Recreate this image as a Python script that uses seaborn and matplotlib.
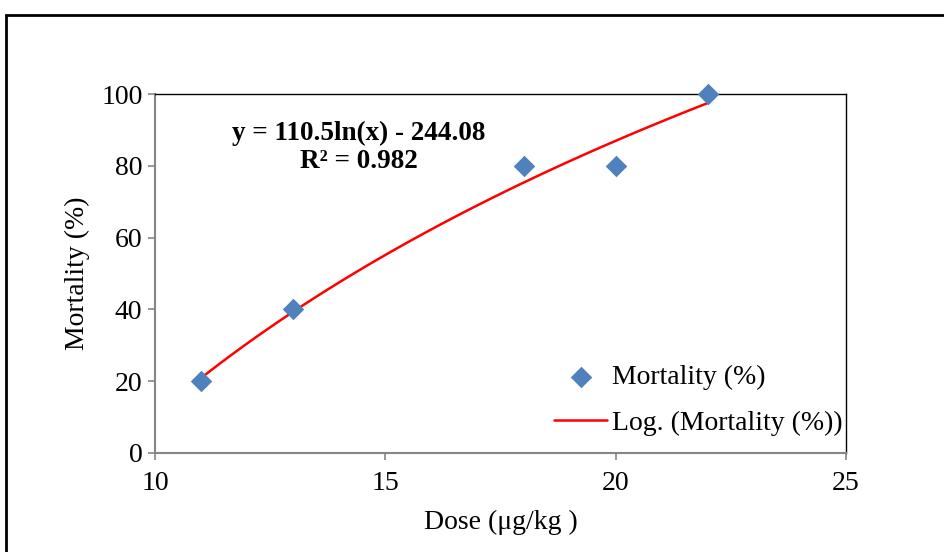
import numpy as np
import pandas as pd
import matplotlib.pyplot as plt
import seaborn as sns
from matplotlib.patches import Rectangle

dose = [11, 13, 18, 20, 22]
mortality = [20, 40, 80, 80, 100]
x_ticks = [10, 15, 20, 25]
y_ticks = [0, 20, 40, 60, 80, 100]
equation = "y = 110.5ln(x) - 244.08\nR² = 0.982"

df = pd.DataFrame({"Dose": dose, "Mortality": mortality})

sns.set_style("white")
plt.rcParams["font.family"] = ["Liberation Serif", "DejaVu Serif"]
plt.rcParams["text.color"] = "black"
plt.rcParams["axes.labelcolor"] = "black"

fig = plt.figure(figsize=(9.45, 5.52), dpi=100)
ax = fig.add_axes([155 / 945, 1 - 453 / 552, (846 - 155) / 945, (453 - 94) / 552])

sns.regplot(data=df, x="Dose", y="Mortality", logx=True, ci=None, scatter=False,
            truncate=True, color="red", label="Log. (Mortality (%))",
            line_kws={"lw": 1.8}, ax=ax)
sns.scatterplot(data=df, x="Dose", y="Mortality", marker="D", s=120, color="#4F81BD",
                edgecolor="#4F81BD", linewidth=0, label="Mortality (%)", ax=ax,
                zorder=3, clip_on=False)

ax.set_xlim(10, 25)
ax.set_ylim(0, 100)
ax.set_xticks(x_ticks)
ax.set_yticks(y_ticks)
ax.tick_params(axis="both", labelsize=20, direction="out", length=5, width=1.2,
               color="#868686", labelcolor="black", bottom=True, left=True)
ax.tick_params(axis="x", pad=8)
ax.tick_params(axis="y", pad=4)
for side in ["left", "bottom"]:
    ax.spines[side].set_color("#868686")
    ax.spines[side].set_linewidth(1.5)
for side in ["top", "right"]:
    ax.spines[side].set_color("black")
    ax.spines[side].set_linewidth(1)

ax.set_xlabel("Dose (μg/kg )", fontsize=20, labelpad=10)
ax.set_ylabel("Mortality (%)", fontsize=20, labelpad=8)

ax.text(0.295, 0.851, equation, transform=ax.transAxes, ha="center", va="center",
        fontsize=19.5, fontweight="bold", linespacing=1.15)

handles, labels = ax.get_legend_handles_labels()
order = [labels.index("Mortality (%)"), labels.index("Log. (Mortality (%))")]
ax.legend([handles[i] for i in order], [labels[i] for i in order], loc="lower right",
          bbox_to_anchor=(1.032, -0.022), frameon=False, fontsize=20, handlelength=1.9,
          handletextpad=0.2, labelspacing=0.74)

fig.add_artist(Rectangle((6 / 945, -0.1), 1.2, 1 - 15 / 552 + 0.1, transform=fig.transFigure,
                         fill=False, edgecolor="black", linewidth=2))

fig.savefig("out.png", dpi=100)
